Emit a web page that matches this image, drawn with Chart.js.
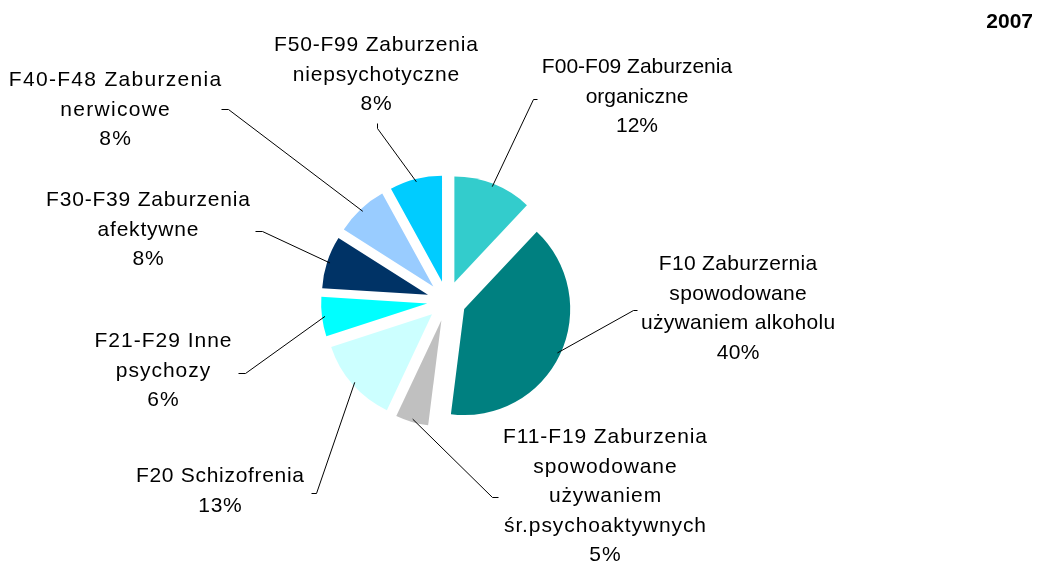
<!DOCTYPE html>
<html>
<head>
<meta charset="utf-8">
<script src="https://cdn.jsdelivr.net/npm/chart.js@4.4.1/dist/chart.umd.min.js"></script>
<style>
  html, body { margin: 0; padding: 0; background: #fff; }
  #wrap { width: 1045px; height: 565px; position: relative; }
</style>
</head>
<body>
<div id="wrap"><canvas id="wykres"></canvas></div>
<script>
// Dane wykresu
var kategorie = [
    ['F00-F09 Zaburzenia', 'organiczne'],
    ['F10 Zaburzernia', 'spowodowane', 'używaniem alkoholu'],
    ['F11-F19 Zaburzenia', 'spowodowane', 'używaniem', 'śr.psychoaktywnych'],
    ['F20 Schizofrenia'],
    ['F21-F29 Inne', 'psychozy'],
    ['F30-F39 Zaburzenia', 'afektywne'],
    ['F40-F48 Zaburzenia', 'nerwicowe'],
    ['F50-F99 Zaburzenia', 'niepsychotyczne']
];
var wartosci = [12, 40, 5, 13, 6, 8, 8, 8];
var kolory = ['#33CCCC', '#008080', '#C0C0C0', '#CCFFFF', '#00FFFF', '#003366', '#99CCFF', '#00CCFF'];
var rok = '2007';

// Wyglad: odsuniecie wycinkow (px) i rozstrzelenie liter etykiet
var odsuniecia = [20, 19, 20, 20, 20, 20, 20, 20];
var rozstrzelenie = [0, 0.3, 0.9, 0.7, 1.0, 0.8, 1.3, 0.8];

// Rozmieszczenie etykiet (wzgledem srodka kola): tekst, zalamanie linii, koniec linii
var etykietyPoz = [
    { tx: 190, ty: -228, ex: 86, ey: -202, sx: 90, sy: -202 },
    { tx: 291, ty: -31, ex: 186, ey: 9, sx: 190, sy: 9 },
    { tx: 158, ty: 142, ex: 45, ey: 196, sx: 51, sy: 196 },
    { tx: -227, ty: 181, ex: -131, ey: 192, sx: -136, sy: 192 },
    { tx: -284, ty: 46, ex: -202, ey: 72, sx: -209, sy: 72 },
    { tx: -299, ty: -95, ex: -185, ey: -70, sx: -192, sy: -70 },
    { tx: -332, ty: -215, ex: -219, ey: -192, sx: -226, sy: -192 },
    { tx: -71, ty: -250, ex: -70, ey: -173, sx: -70, sy: -178 }
];

var PROMIEN = 106;
var FONT = '21px "Liberation Sans", Arial, sans-serif';
var LINIA = 29.5;

// Rozsuniecie wycinkow: przesuwamy rysowanie luku wzdluz jego dwusiecznej
var rozsunPlugin = {
    id: 'rozsun',
    beforeDatasetsDraw: function(chart) {
        var meta = chart.getDatasetMeta(0);
        meta.data.forEach(function(arc, i) {
            if (arc._rozsuniety) return;
            var rysuj = arc.draw;
            arc.draw = function(ctx) {
                var mid = (this.startAngle + this.endAngle) / 2;
                ctx.save();
                ctx.translate(Math.cos(mid) * odsuniecia[i], Math.sin(mid) * odsuniecia[i]);
                rysuj.call(this, ctx);
                ctx.restore();
            };
            arc._rozsuniety = true;
        });
    }
};

var etykietyPlugin = {
    id: 'etykiety',
    afterDatasetsDraw: function(chart) {
        var ctx = chart.ctx;
        var meta = chart.getDatasetMeta(0);
        ctx.save();
        ctx.font = FONT;
        ctx.fillStyle = '#000';
        ctx.strokeStyle = '#000';
        ctx.lineWidth = 1;
        ctx.textBaseline = 'alphabetic';

        meta.data.forEach(function(arc, i) {
            var p = etykietyPoz[i];
            var cx = arc.x, cy = arc.y;
            var mid = (arc.startAngle + arc.endAngle) / 2;
            var rr = arc.outerRadius + odsuniecia[i] - 3;
            var x0 = cx + Math.cos(mid) * rr;
            var y0 = cy + Math.sin(mid) * rr;

            ctx.beginPath();
            ctx.moveTo(x0, y0);
            ctx.lineTo(cx + p.ex + 0.5, cy + p.ey + 0.5);
            ctx.lineTo(cx + p.sx + 0.5, cy + p.sy + 0.5);
            ctx.stroke();

            ctx.letterSpacing = rozstrzelenie[i] + 'px';
            ctx.textAlign = 'left';
            var linie = kategorie[i].concat([wartosci[i] + '%']);
            linie.forEach(function(t, j) {
                var w = ctx.measureText(t).width - rozstrzelenie[i];
                ctx.fillText(t, cx + p.tx - w / 2, cy + p.ty + j * LINIA);
            });
        });

        // rok w prawym gornym rogu
        ctx.letterSpacing = '0px';
        ctx.font = 'bold 21px "Liberation Sans", Arial, sans-serif';
        ctx.textAlign = 'right';
        ctx.fillText(rok, 1033, 28);
        ctx.restore();
    }
};

var context = document.getElementById('wykres').getContext('2d');
var chart = new Chart(context, {
    type: 'pie',
    data: {
        labels: kategorie.map(function(k) { return k.join(' '); }),
        datasets: [{
            data: wartosci,
            backgroundColor: kolory,
            borderWidth: 0,
            offset: 0,
            hoverOffset: 0
        }]
    },
    options: {
        responsive: true,
        maintainAspectRatio: false,
        animation: false,
        radius: PROMIEN,
        layout: {
            padding: { left: 0, right: 151, top: 37, bottom: 0 }
        },
        plugins: {
            legend: { display: false },
            tooltip: { enabled: false }
        }
    },
    plugins: [rozsunPlugin, etykietyPlugin]
});
</script>
</body>
</html>
